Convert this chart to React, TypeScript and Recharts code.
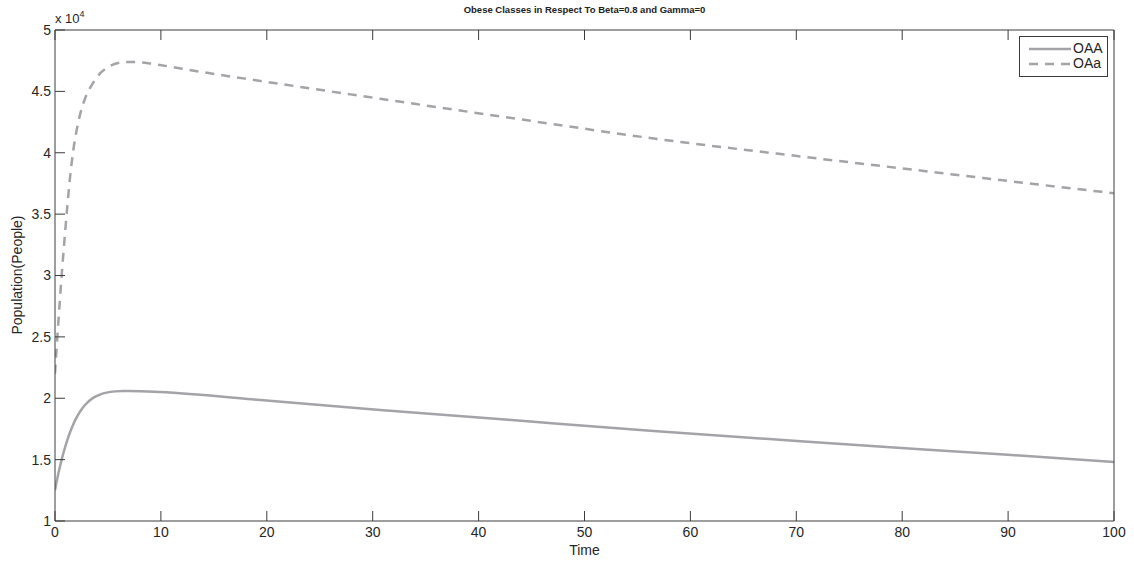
import React from "react";
import { LineChart, Line, XAxis, YAxis } from "recharts";

const time = [0, 0.3, 0.63, 1.0, 1.2, 1.42, 1.73, 2.2, 2.52, 2.83, 3.6, 4.3, 4.87, 5.7, 6.4, 6.9, 8.8, 9.9, 13.7, 19.4, 30.7, 44.9, 56.2, 70.4, 81.7, 90, 100];
const oaa = [12500, 13800, 15000, 16150, 16690, 17230, 17880, 18680, 19110, 19450, 20030, 20320, 20460, 20560, 20590, 20590, 20550, 20510, 20280, 19850, 19050, 18100, 17360, 16500, 15850, 15400, 14800];
const oaA = [22000, 26000, 30000, 34000, 36000, 38000, 40200, 42500, 43600, 44400, 45700, 46500, 46900, 47250, 47380, 47400, 47300, 47150, 46600, 45850, 44400, 42600, 41200, 39700, 38550, 37700, 36700];
const xTicks = [0, 10, 20, 30, 40, 50, 60, 70, 80, 90, 100];
const yTicks = [10000, 15000, 20000, 25000, 30000, 35000, 40000, 45000, 50000];

const data = time.map((t, i) => ({ t, OAA: oaa[i], OAa: oaA[i] }));

const LINE = "#a3a3a8";
const AXIS = "#3c3c3c";
const FONT = "'Liberation Sans', Arial, Helvetica, sans-serif";

const TopTick = (props: any) => (
  <line x1={props.x} x2={props.x} y1={props.y} y2={props.y + 10} stroke={AXIS} strokeWidth={1} />
);
const RightTick = (props: any) => (
  <line x1={props.x - 10} x2={props.x} y1={props.y} y2={props.y} stroke={AXIS} strokeWidth={1} />
);

export default function App() {
  const tickStyle = { fontSize: 14, fill: "#262626", fontFamily: FONT };
  return (
    <div style={{ position: "absolute", left: 0, top: 0, width: 1134, height: 561, background: "#fff", fontFamily: FONT }}>
      <LineChart width={1134} height={561} data={data} margin={{ top: 29, right: 19, bottom: 0, left: 0 }}>
        <XAxis
          xAxisId="b"
          dataKey="t"
          type="number"
          domain={[0, 100]}
          ticks={xTicks}
          height={40}
          tickSize={-10}
          tickMargin={16}
          tick={tickStyle}
          stroke={AXIS}
          allowDataOverflow
        />
        <XAxis
          xAxisId="top"
          orientation="top"
          dataKey="t"
          type="number"
          domain={[0, 100]}
          ticks={xTicks}
          height={1}
          tickSize={0}
          tickMargin={0}
          tickLine={false}
          tick={TopTick}
          stroke={AXIS}
        />
        <YAxis
          yAxisId="l"
          type="number"
          domain={[10000, 50000]}
          ticks={yTicks}
          width={55}
          tickSize={-10}
          tickMargin={14}
          tick={tickStyle}
          tickFormatter={(v: number) => String(v / 10000)}
          stroke={AXIS}
        />
        <YAxis
          yAxisId="r"
          orientation="right"
          type="number"
          domain={[10000, 50000]}
          ticks={yTicks}
          width={1}
          tickSize={0}
          tickMargin={0}
          tickLine={false}
          tick={RightTick}
          stroke={AXIS}
        />
        <Line
          xAxisId="b"
          yAxisId="l"
          dataKey="OAA"
          type="monotone"
          stroke={LINE}
          strokeWidth={2.5}
          dot={false}
          isAnimationActive={false}
        />
        <Line
          xAxisId="b"
          yAxisId="l"
          dataKey="OAa"
          type="monotone"
          stroke={LINE}
          strokeWidth={2.5}
          strokeDasharray="9 7"
          dot={false}
          isAnimationActive={false}
        />
      </LineChart>
      <div style={{ position: "absolute", left: 0, width: 1169, top: 4, textAlign: "center", fontSize: 9.5, fontWeight: "bold", color: "#222" }}>
        Obese Classes in Respect To Beta=0.8 and Gamma=0
      </div>
      <div style={{ position: "absolute", left: 55, top: 9, fontSize: 13, color: "#262626", whiteSpace: "nowrap" }}>
        x 10<sup style={{ fontSize: 9, verticalAlign: "6px" }}>4</sup>
      </div>
      <div style={{ position: "absolute", left: 0, width: 1169, top: 542, textAlign: "center", fontSize: 14, color: "#262626" }}>
        Time
      </div>
      <div
        style={{
          position: "absolute",
          left: 17,
          top: 275,
          transform: "translate(-50%, -50%) rotate(-90deg)",
          fontSize: 14,
          color: "#262626",
          whiteSpace: "nowrap",
        }}
      >
        Population(People)
      </div>
      <div
        style={{
          position: "absolute",
          left: 1019,
          top: 36,
          width: 87,
          height: 39,
          border: `1px solid ${AXIS}`,
          background: "#fff",
          fontSize: 14,
          color: "#262626",
        }}
      >
        <svg width={87} height={39} style={{ position: "absolute", left: 0, top: 0 }}>
          <line x1={9} x2={51} y1={12} y2={12} stroke={LINE} strokeWidth={2.5} />
          <line x1={9} x2={51} y1={27} y2={27} stroke={LINE} strokeWidth={2.5} strokeDasharray="9 7" />
        </svg>
        <div style={{ position: "absolute", left: 53, top: 3, lineHeight: "16px" }}>OAA</div>
        <div style={{ position: "absolute", left: 53, top: 18, lineHeight: "16px" }}>OAa</div>
      </div>
    </div>
  );
}
